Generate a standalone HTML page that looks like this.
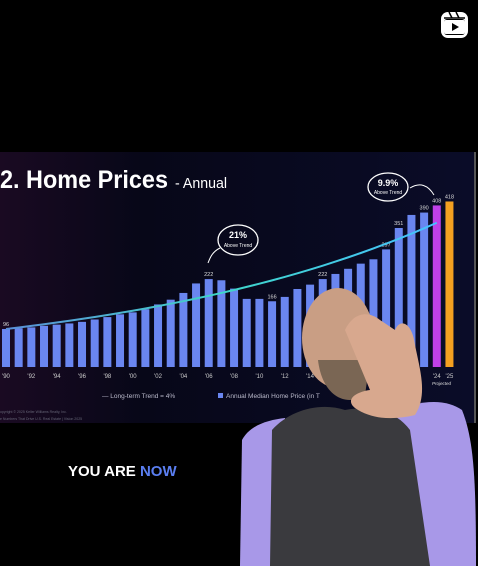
<!DOCTYPE html>
<html><head><meta charset="utf-8"><style>
html,body{margin:0;padding:0;background:#000;width:478px;height:566px;overflow:hidden;font-family:"Liberation Sans",sans-serif}
svg{display:block}
</style></head><body>
<svg width="478" height="566" viewBox="0 0 478 566">
<defs>
<linearGradient id="bg" x1="0" y1="0" x2="1" y2="0">
<stop offset="0" stop-color="#1a0a22"/><stop offset="0.3" stop-color="#070718"/><stop offset="1" stop-color="#0a0c28"/>
</linearGradient>
<linearGradient id="tr" x1="0" y1="0" x2="1" y2="0">
<stop offset="0" stop-color="#5a8fd8"/><stop offset="0.5" stop-color="#3fd6c8"/><stop offset="1" stop-color="#46c0ff"/>
</linearGradient>
</defs>
<rect width="478" height="566" fill="#000"/>
<rect x="0" y="152" width="474" height="271" fill="url(#bg)"/>
<rect x="474" y="152" width="2" height="271" fill="#555"/>
<text x="0" y="188" fill="#fff" font-size="25" font-weight="bold" textLength="168" lengthAdjust="spacingAndGlyphs">2. Home Prices</text>
<text x="175" y="188" fill="#fff" font-size="15" textLength="52" lengthAdjust="spacingAndGlyphs">- Annual</text>
<g id="bars"></g>
<g id="labels"></g>
<g id="ticks"></g>
<path id="trend" fill="none" stroke="url(#tr)" stroke-width="2"/>
<ellipse cx="238" cy="240" rx="20" ry="15" fill="none" stroke="#fff" stroke-width="1.3"/>
<text x="238" y="238" fill="#fff" font-size="9" font-weight="bold" text-anchor="middle">21%</text>
<text x="238" y="247" fill="#fff" font-size="5" text-anchor="middle">Above Trend</text>
<path d="M220,248 C212,252 210,258 208,263" fill="none" stroke="#fff" stroke-width="1"/>
<ellipse cx="388" cy="187" rx="20" ry="14" fill="none" stroke="#fff" stroke-width="1.3"/>
<text x="388" y="186" fill="#fff" font-size="9" font-weight="bold" text-anchor="middle">9.9%</text>
<text x="388" y="194" fill="#fff" font-size="5" text-anchor="middle">Above Trend</text>
<path d="M410,188 C420,182 428,185 434,195" fill="none" stroke="#fff" stroke-width="1"/>
<text x="432" y="385" fill="#ddd" font-size="4.5" font-style="italic">Projected</text>
<text x="102" y="398" fill="#bbc" font-size="6.5">— Long-term Trend = 4%</text>
<rect x="218" y="393" width="5" height="5" fill="#6a86f0"/>
<text x="226" y="398" fill="#bbc" font-size="6.5">Annual Median Home Price (in T</text>
<text x="0" y="413" fill="#667" font-size="3.5">opyright © 2025 Keller Williams Realty, Inc.</text>
<text x="0" y="420" fill="#667" font-size="3.5">e Numbers That Drive U.S. Real Estate | Vision 2025</text>
<text x="68" y="476" fill="#fff" font-size="15" font-weight="bold">YOU ARE <tspan fill="#5a7ef0">NOW</tspan></text>
<g>
<path d="M242,440 C250,425 268,420 285,418 L290,566 L240,566 Z" fill="#a898e8"/>
<path d="M390,412 C420,400 445,398 462,410 C474,440 476,480 476,566 L420,566 Z" fill="#a898e8"/>
<path d="M272,430 C290,410 320,402 345,410 C370,405 395,410 410,430 L430,566 L270,566 Z" fill="#3a3a3e"/>
<ellipse cx="338" cy="338" rx="36" ry="50" fill="#c99e84"/>
<path d="M318,360 C322,395 345,408 365,395 L370,360 Z" fill="#7a6654"/>
<path d="M345,330 C355,310 370,312 380,320 L395,330 C400,318 412,322 415,345 C420,370 428,395 415,415 C395,420 372,420 355,408 C345,400 355,392 370,390 Z" fill="#d8a88e"/>
</g>
<g>
<rect x="441" y="12" width="27" height="26" rx="7" fill="#fff"/>
<rect x="444" y="19" width="21" height="16" rx="3" fill="#000"/>
<path d="M444,18 L465,18" stroke="#000" stroke-width="1.5"/>
<path d="M449,12 L452,18 M456,12 L459,18" stroke="#000" stroke-width="1.5"/>
<rect x="444" y="20" width="21" height="14" rx="2" fill="#fff"/>
<path d="M452,23 L459,27 L452,31 Z" fill="#000"/>
</g>
</svg>
<script>
const years=[1990,1991,1992,1993,1994,1995,1996,1997,1998,1999,2000,2001,2002,2003,2004,2005,2006,2007,2008,2009,2010,2011,2012,2013,2014,2015,2016,2017,2018,2019,2020,2021,2022,2023,2024,2025];
const prices=[96,98,100,104,107,110,114,120,126,133,138,146,158,170,187,211,222,219,198,172,172,166,177,197,208,222,235,248,261,272,297,351,384,390,408,418];
const labeledValues={1990:"96",2006:"222",2011:"166",2015:"222",2020:"297",2021:"351",2023:"390",2024:"408",2025:"418"};
const tickLabels=["'90","'92","'94","'96","'98","'00","'02","'04","'06","'08","'10","'12","'14","'16","'18","'20","'22","'24","'25"];
const trendStart=96, trendRate=0.04;
const ns="http://www.w3.org/2000/svg";
const x0=6, step=12.67, bw=8, base=367, k=0.396;
const xs=i=>x0+i*step, ys=v=>base-v*k;
const g=document.getElementById('bars'),lg=document.getElementById('labels'),tg=document.getElementById('ticks');
years.forEach((yr,i)=>{
 const r=document.createElementNS(ns,'rect');
 r.setAttribute('x',xs(i)-bw/2);r.setAttribute('y',ys(prices[i]));
 r.setAttribute('width',bw);r.setAttribute('height',prices[i]*k);
 r.setAttribute('fill',yr===2024?'#c040e8':yr===2025?'#f4a020':'#6a86f0');
 
 
 g.appendChild(r);
 if(labeledValues[yr]){
  const t=document.createElementNS(ns,'text');
  t.setAttribute('x',xs(i));t.setAttribute('y',ys(prices[i])-3);
  t.setAttribute('fill','#ddd');t.setAttribute('font-size','5.5');t.setAttribute('text-anchor','middle');
  t.textContent=labeledValues[yr];
  
  
  lg.appendChild(t);
 }
});
tickLabels.forEach(l=>{
 let y=parseInt(l.slice(1));y=y<50?2000+y:1900+y;
 const i=years.indexOf(y);
 const t=document.createElementNS(ns,'text');
 t.setAttribute('x',xs(i));t.setAttribute('y',base+11);
 t.setAttribute('fill','#ccc');t.setAttribute('font-size','6');t.setAttribute('text-anchor','middle');
 t.textContent=l;
 
 
 tg.appendChild(t);
});
let d='';
for(let i=0;i<=34;i++){const v=trendStart*Math.pow(1+trendRate,i);d+=(i?'L':'M')+xs(i)+','+ys(v);}
document.getElementById('trend').setAttribute('d',d);
</script>
</body></html>
